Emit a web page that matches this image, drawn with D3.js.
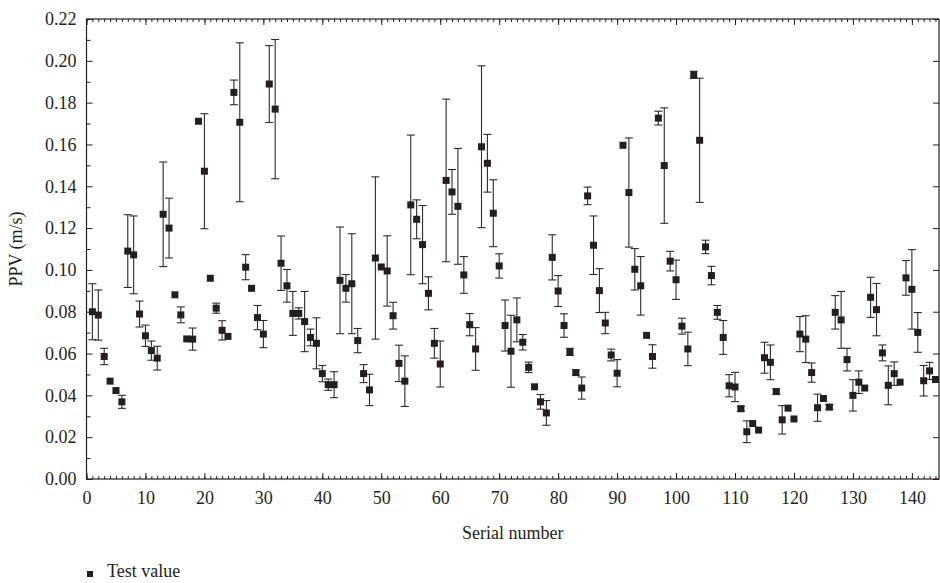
<!DOCTYPE html>
<html>
<head>
<meta charset="utf-8">
<script src="https://cdn.jsdelivr.net/npm/d3@7/dist/d3.min.js"></script>
<style>
  html, body { margin: 0; padding: 0; background: #fff; }
</style>
</head>
<body>
<svg id="chart" width="940" height="583"></svg>
<script>
// Peak particle velocity per test, with measurement spread
const serials = d3.range(1, 145);
const ppv = [
  0.0800, 0.0784, 0.0586, 0.0468, 0.0423, 0.0369, 0.1090, 0.1072, 0.0789, 0.0685,
  0.0614, 0.0578, 0.1266, 0.1200, 0.0881, 0.0785, 0.0670, 0.0669, 0.1711, 0.1472,
  0.0960, 0.0817, 0.0711, 0.0682, 0.1849, 0.1706, 0.1013, 0.0912, 0.0772, 0.0693,
  0.1889, 0.1769, 0.1032, 0.0924, 0.0792, 0.0792, 0.0753, 0.0677, 0.0649, 0.0504,
  0.0451, 0.0451, 0.0950, 0.0912, 0.0934, 0.0662, 0.0504, 0.0426, 0.1057, 0.1014,
  0.0995, 0.0781, 0.0553, 0.0468, 0.1311, 0.1242, 0.1121, 0.0888, 0.0649, 0.0550,
  0.1428, 0.1373, 0.1304, 0.0976, 0.0738, 0.0622, 0.1589, 0.1510, 0.1271, 0.1019,
  0.0734, 0.0611, 0.0761, 0.0654, 0.0534, 0.0441, 0.0369, 0.0316, 0.1060, 0.0899,
  0.0734, 0.0608, 0.0509, 0.0435, 0.1354, 0.1118, 0.0901, 0.0746, 0.0593, 0.0506,
  0.1596, 0.1370, 0.1003, 0.0924, 0.0687, 0.0586, 0.1726, 0.1499, 0.1042, 0.0953,
  0.0731, 0.0622, 0.1933, 0.1620, 0.1110, 0.0973, 0.0797, 0.0677, 0.0446, 0.0440,
  0.0336, 0.0226, 0.0265, 0.0234, 0.0580, 0.0558, 0.0418, 0.0283, 0.0339, 0.0287,
  0.0693, 0.0669, 0.0509, 0.0341, 0.0385, 0.0344, 0.0797, 0.0761, 0.0571, 0.0400,
  0.0463, 0.0435, 0.0869, 0.0810, 0.0603, 0.0448, 0.0504, 0.0463, 0.0962, 0.0907,
  0.0701, 0.0470, 0.0517, 0.0476
];
// half-width of each error bar (0 = no bar drawn)
const spread = [
  0.0134, 0.0120, 0.0039, 0, 0, 0.0031, 0.0174, 0.0186, 0.0062, 0.0051,
  0.0046, 0.0057, 0.0250, 0.0143, 0, 0.0038, 0, 0.0053, 0, 0.0275,
  0, 0.0024, 0.0046, 0, 0.0059, 0.0380, 0.0060, 0, 0.0058, 0.0065,
  0.0184, 0.0333, 0.0130, 0.0078, 0.0105, 0.0027, 0.0144, 0.0040, 0.0122, 0.0039,
  0.0027, 0.0062, 0.0255, 0.0066, 0.0239, 0.0058, 0.0043, 0.0075, 0.0388, 0,
  0.0168, 0.0064, 0.0087, 0.0121, 0.0334, 0.0093, 0.0187, 0.0079, 0.0071, 0.0110,
  0.0389, 0.0107, 0.0277, 0.0088, 0.0053, 0.0102, 0.0387, 0.0138, 0.0160, 0.0058,
  0.0122, 0.0172, 0.0105, 0.0037, 0.0025, 0, 0.0035, 0.0059, 0.0108, 0.0074,
  0.0056, 0.0017, 0.0012, 0.0053, 0.0042, 0.0140, 0.0105, 0.0051, 0.0028, 0.0065,
  0, 0.0261, 0.0099, 0.0140, 0, 0.0056, 0.0033, 0.0276, 0.0047, 0.0094,
  0.0038, 0.0080, 0.0017, 0.0297, 0.0032, 0.0044, 0.0033, 0.0081, 0.0053, 0.0070,
  0.0012, 0.0052, 0, 0, 0.0074, 0.0083, 0.0012, 0.0068, 0, 0,
  0.0084, 0.0112, 0.0046, 0.0065, 0, 0.0012, 0.0080, 0.0136, 0.0054, 0.0075,
  0.0054, 0, 0.0096, 0.0125, 0.0038, 0.0093, 0.0056, 0, 0.0083, 0.0190,
  0.0095, 0.0073, 0.0041, 0
];
const xTicks = d3.range(0, 141, 10);
const yTicks = d3.range(0, 0.2201, 0.02);
const xLabel = "Serial number";
const yLabel = "PPV (m/s)";
const legendLabel = "Test value";

const ink = "#231f20";
const serif = "'Liberation Serif', 'DejaVu Serif', 'Times New Roman', serif";
const svg = d3.select("#chart").attr("font-family", serif);
const plotL = 86.5, plotR = 939, plotT = 19, plotB = 479;

const x = d3.scaleLinear().domain([0, 144.6]).range([plotL, plotR]);
const y = d3.scaleLinear().domain([0, 0.22]).range([plotB, plotT]);

const rows = serials.map((s, i) => ({ s, v: ppv[i], e: spread[i] }));

function styleAxis(g) {
  g.attr("font-family", serif);
  g.select(".domain").remove();
  g.selectAll(".tick line").attr("stroke", ink).attr("stroke-width", 1);
  g.selectAll("text").attr("font-size", 18).attr("fill", ink).attr("font-family", serif);
}

// minor ticks (every unit on x, every 0.01 on y)
svg.append("g").attr("transform", `translate(0,${plotB})`)
  .call(d3.axisBottom(x).tickValues(d3.range(0, 145, 1)).tickSizeInner(-3).tickSizeOuter(0).tickFormat(""))
  .call(styleAxis);
svg.append("g").attr("transform", `translate(0,${plotT})`)
  .call(d3.axisTop(x).tickValues(d3.range(0, 145, 1)).tickSizeInner(-3).tickSizeOuter(0).tickFormat(""))
  .call(styleAxis);
svg.append("g").attr("transform", `translate(${plotL},0)`)
  .call(d3.axisLeft(y).tickValues(d3.range(0.01, 0.22, 0.02)).tickSizeInner(-4).tickSizeOuter(0).tickFormat(""))
  .call(styleAxis);

// major ticks and labels
svg.append("g").attr("transform", `translate(0,${plotB})`)
  .call(d3.axisBottom(x).tickValues(xTicks).tickSizeInner(-6).tickSizeOuter(0).tickPadding(12).tickFormat(d3.format("d")))
  .call(styleAxis);
svg.append("g").attr("transform", `translate(0,${plotT})`)
  .call(d3.axisTop(x).tickValues(xTicks).tickSizeInner(-6).tickSizeOuter(0).tickFormat(""))
  .call(styleAxis);
svg.append("g").attr("transform", `translate(${plotL},0)`)
  .call(d3.axisLeft(y).tickValues(yTicks).tickSizeInner(-6).tickSizeOuter(0).tickPadding(10).tickFormat(d3.format(".2f")))
  .call(styleAxis);
svg.append("g").attr("transform", `translate(${plotR},0)`)
  .call(d3.axisRight(y).tickValues(yTicks).tickSizeInner(-6).tickSizeOuter(0).tickFormat(""))
  .call(styleAxis);

// plot frame
svg.append("rect")
  .attr("x", plotL).attr("y", plotT)
  .attr("width", plotR - plotL).attr("height", plotB - plotT)
  .attr("fill", "none").attr("stroke", ink).attr("stroke-width", 1.2);

// error bars
const capW = 4;
const bars = svg.append("g").attr("stroke", "#2b2b2b").attr("stroke-width", 1.1).attr("fill", "none");
rows.filter(d => d.e > 0).forEach(d => {
  const cx = x(d.s), y1 = y(d.v + d.e), y0 = y(d.v - d.e);
  bars.append("line").attr("x1", cx).attr("x2", cx).attr("y1", y1).attr("y2", y0);
  bars.append("line").attr("x1", cx - capW).attr("x2", cx + capW).attr("y1", y1).attr("y2", y1);
  bars.append("line").attr("x1", cx - capW).attr("x2", cx + capW).attr("y1", y0).attr("y2", y0);
});

// square markers
const m = 7;
svg.append("g").selectAll("rect.pt").data(rows).join("rect")
  .attr("class", "pt")
  .attr("x", d => x(d.s) - m / 2).attr("y", d => y(d.v) - m / 2)
  .attr("width", m).attr("height", m).attr("fill", ink);

// axis titles
svg.append("text")
  .attr("x", (plotL + plotR) / 2).attr("y", 539)
  .attr("text-anchor", "middle").attr("font-size", 18).attr("fill", ink)
  .text(xLabel);
svg.append("text")
  .attr("transform", `translate(22,${(plotT + plotB) / 2}) rotate(-90)`)
  .attr("text-anchor", "middle").attr("font-size", 18).attr("fill", ink)
  .text(yLabel);

// legend
svg.append("rect").attr("x", 87).attr("y", 571).attr("width", 6).attr("height", 6).attr("fill", ink);
svg.append("text").attr("x", 107).attr("y", 577).attr("font-size", 18).attr("fill", ink).text(legendLabel);
</script>
</body>
</html>
